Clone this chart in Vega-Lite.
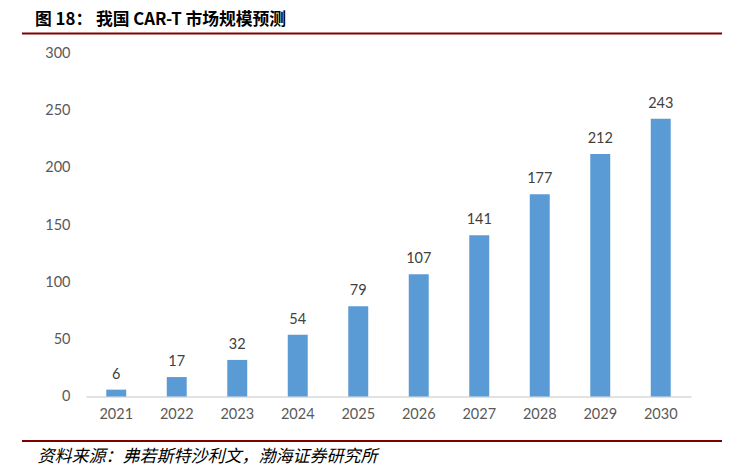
{
  "$schema": "https://vega.github.io/schema/vega-lite/v6.json",
  "autosize": "none",
  "width": 605,
  "height": 343,
  "padding": {"left": 86, "top": 53.5, "right": 60, "bottom": 74.5},
  "background": "white",
  "title": {
    "text": "图 18： 我国 CAR-T 市场规模预测",
    "anchor": "start",
    "frame": "group",
    "dx": -51,
    "dy": 16,
    "offset": 20,
    "font": "Noto Sans CJK SC",
    "fontSize": 16.8,
    "fontWeight": "bold",
    "color": "#000000"
  },
  "config": {"view": {"stroke": null}},
  "layer": [
    {
      "data": {"values": [
        {"year": "2021", "value": 6},
        {"year": "2022", "value": 17},
        {"year": "2023", "value": 32},
        {"year": "2024", "value": 54},
        {"year": "2025", "value": 79},
        {"year": "2026", "value": 107},
        {"year": "2027", "value": 141},
        {"year": "2028", "value": 177},
        {"year": "2029", "value": 212},
        {"year": "2030", "value": 243}
      ]},
      "encoding": {
        "x": {
          "field": "year", "type": "nominal", "sort": null,
          "scale": {"paddingInner": 0.67, "paddingOuter": 0.335},
          "axis": {
            "title": "资料来源：弗若斯特沙利文，渤海证券研究所",
            "titleX": -49, "titleY": 60, "titleAlign": "left", "titleAnchor": "start",
            "titleBaseline": "middle",
            "titleFont": "Noto Sans CJK SC", "titleFontSize": 17, "titleFontStyle": "italic",
            "titleFontWeight": "normal", "titleColor": "#000000",
            "labelAngle": 0, "labelFont": "Lato", "labelFontSize": 14.5, "labelColor": "#595959",
            "labelPadding": 11, "ticks": false,
            "domainColor": "#d9d9d9", "domainWidth": 1.5, "grid": false
          }
        },
        "y": {
          "field": "value", "type": "quantitative",
          "scale": {"domain": [0, 300], "nice": false},
          "axis": {
            "title": null, "values": [0, 50, 100, 150, 200, 250, 300],
            "domain": false, "ticks": false, "grid": false,
            "labelFont": "Lato", "labelFontSize": 14.5, "labelColor": "#595959",
            "labelPadding": 16
          }
        }
      },
      "layer": [
        {"mark": {"type": "bar", "color": "#5B9BD5"}},
        {
          "mark": {"type": "text", "baseline": "bottom", "dy": -8, "font": "Lato", "fontSize": 14.5, "color": "#404040"},
          "encoding": {"text": {"field": "value", "type": "quantitative"}}
        }
      ]
    },
    {
      "data": {"values": [{"pos": "top"}]},
      "mark": {"type": "rule", "color": "#7F0000", "strokeWidth": 2.2},
      "encoding": {"x": {"value": -64}, "x2": {"value": 636}, "y": {"value": -20}}
    },
    {
      "data": {"values": [{"pos": "bottom"}]},
      "mark": {"type": "rule", "color": "#7F0000", "strokeWidth": 2.2},
      "encoding": {"x": {"value": -64}, "x2": {"value": 636}, "y": {"value": 387.5}}
    }
  ]
}
